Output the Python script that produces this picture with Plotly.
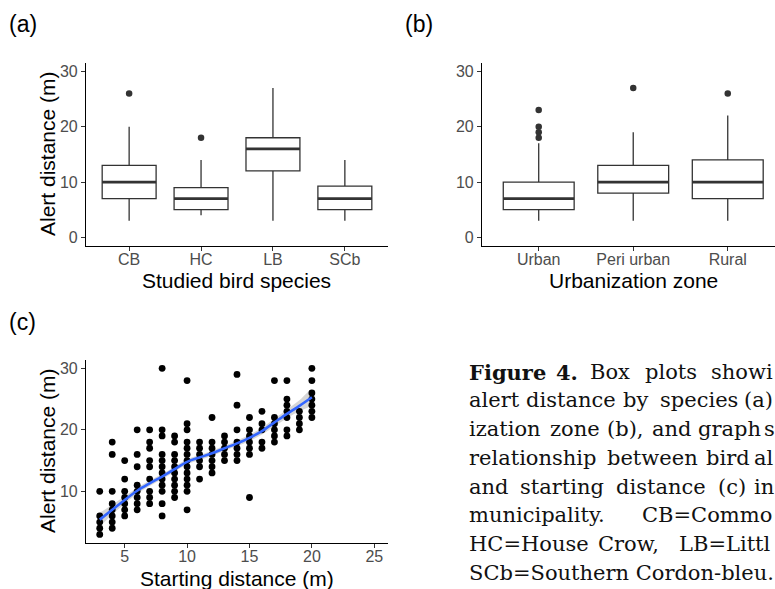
import plotly.graph_objects as go

W, H = 775, 589

# ---------------- data ----------------
species = ["CB", "HC", "LB", "SCb"]
species_q1 = [7, 5, 12, 5]
species_median = [10, 7, 16, 7]
species_q3 = [13, 9, 18, 9.25]
species_lower = [3, 4, 3, 3]
species_upper = [20, 14, 27, 14]
species_outlier_cat = ["CB", "HC"]
species_outlier_val = [26, 18]

zones = ["Urban", "Peri urban", "Rural"]
zone_q1 = [5, 8, 7]
zone_median = [7, 10, 10]
zone_q3 = [10, 13, 14]
zone_lower = [3, 3, 3]
zone_upper = [17, 19, 22]
zone_outlier_cat = ["Urban", "Urban", "Urban", "Urban", "Peri urban", "Rural"]
zone_outlier_val = [18, 19, 20, 23, 27, 26]

start_values = list(range(3, 21))
alert_by_start = [
    [3, 4, 5, 6, 10],
    [4, 5, 6, 7, 8, 10, 16, 18],
    [6, 7, 8, 9, 10, 12, 15],
    [7, 8, 9, 10, 11, 14, 16, 20],
    [8, 9, 10, 12, 14, 15, 17, 18, 20],
    [6, 8, 10, 11, 12, 13, 14, 15, 16, 19, 20, 30],
    [9, 10, 11, 12, 13, 14, 15, 16, 18, 19],
    [7, 10, 11, 12, 13, 14, 15, 16, 17, 18, 20, 21, 28],
    [12, 14, 15, 16, 17, 18],
    [13, 14, 15, 16, 17, 18, 22],
    [15, 16, 17, 18, 19],
    [15, 16, 17, 18, 20, 24, 29],
    [9, 16, 17, 18, 19, 20, 22],
    [17, 18, 20, 21, 23],
    [18, 19, 20, 21, 22, 28],
    [19, 20, 22, 23, 24, 25, 28],
    [20, 21, 22, 23],
    [22, 23, 24, 25, 26, 28, 30],
]
smooth_x = start_values
smooth_y = [5.4, 7.0, 8.6, 10.1, 11.3, 12.4, 13.6, 14.8, 15.5,
            16.2, 17.0, 17.8, 18.7, 19.8, 21.2, 22.6, 23.9, 25.3]
smooth_lo = [4.3, 6.2, 8.0, 9.6, 10.85, 12.0, 13.2, 14.4, 15.1,
             15.8, 16.6, 17.35, 18.2, 19.25, 20.6, 21.9, 23.0, 24.1]
smooth_hi = [6.5, 7.8, 9.2, 10.6, 11.75, 12.8, 14.0, 15.2, 15.9,
             16.6, 17.4, 18.25, 19.2, 20.35, 21.8, 23.3, 24.8, 26.5]

species_tick_labels = species
zone_tick_labels = zones

# ---------------- helpers ----------------
def px(x):
    return x / W

def py(y):
    return 1 - y / H

SANS = "Liberation Sans, Arial, sans-serif"
SERIF = "DejaVu Serif, serif"
BOX_COL = "#333333"

fig = go.Figure()

def add_box_panel(cats, q1, med, q3, lo, hi, out_cat, out_val, xa, ya):
    pos = list(range(1, len(cats) + 1))
    fig.add_trace(go.Box(
        x=pos, q1=q1, median=med, q3=q3, lowerfence=lo, upperfence=hi,
        width=0.75, whiskerwidth=0, fillcolor="white", boxpoints=False,
        line=dict(color=BOX_COL, width=1.3), xaxis=xa, yaxis=ya,
        showlegend=False, hoverinfo="skip"))
    mx, my = [], []
    for p, m in zip(pos, med):
        mx += [p - 0.375, p + 0.375, None]
        my += [m, m, None]
    fig.add_trace(go.Scatter(x=mx, y=my, mode="lines",
                             line=dict(color=BOX_COL, width=2.7),
                             xaxis=xa, yaxis=ya, showlegend=False,
                             hoverinfo="skip"))
    idx = {c: i + 1 for i, c in enumerate(cats)}
    fig.add_trace(go.Scatter(x=[idx[c] for c in out_cat], y=out_val,
                             mode="markers",
                             marker=dict(color=BOX_COL, size=6.5),
                             xaxis=xa, yaxis=ya, showlegend=False,
                             hoverinfo="skip"))

add_box_panel(species, species_q1, species_median, species_q3,
              species_lower, species_upper,
              species_outlier_cat, species_outlier_val, "x", "y")
add_box_panel(zones, zone_q1, zone_median, zone_q3, zone_lower, zone_upper,
              zone_outlier_cat, zone_outlier_val, "x2", "y2")

# scatter panel
sx, sy = [], []
for s, vals in zip(start_values, alert_by_start):
    for v in vals:
        sx.append(s)
        sy.append(v)

fig.add_trace(go.Scatter(x=smooth_x + smooth_x[::-1],
                         y=smooth_hi + smooth_lo[::-1],
                         fill="toself", fillcolor="rgba(153,153,153,0.4)",
                         line=dict(width=0, shape="spline"), mode="lines",
                         xaxis="x3", yaxis="y3", showlegend=False,
                         hoverinfo="skip"))
fig.add_trace(go.Scatter(x=sx, y=sy, mode="markers",
                         marker=dict(color="black", size=6.8),
                         xaxis="x3", yaxis="y3", showlegend=False))
fig.add_trace(go.Scatter(x=smooth_x, y=smooth_y, mode="lines",
                         line=dict(color="#3366FF", width=2.6, shape="spline"),
                         xaxis="x3", yaxis="y3", showlegend=False))

axis_common = dict(showline=True, linecolor="black", linewidth=1.2,
                   ticks="outside", ticklen=4, tickcolor=BOX_COL, tickwidth=1.1,
                   showgrid=False, zeroline=False,
                   tickfont=dict(family=SANS, size=16, color="#4D4D4D"))

fig.update_layout(
    width=W, height=H, margin=dict(l=0, r=0, t=0, b=0),
    paper_bgcolor="white", plot_bgcolor="white",
    xaxis=dict(domain=[px(86), px(388)], anchor="y", range=[0.4, 4.6],
               tickvals=[1, 2, 3, 4], ticktext=species_tick_labels,
               ticklabelstandoff=-5, **axis_common),
    yaxis=dict(domain=[py(245.7), py(63)], anchor="x", range=[-1.5, 31.5],
               tickvals=[0, 10, 20, 30], **axis_common),
    xaxis2=dict(domain=[px(482), 1.0], anchor="y2", range=[0.4, 3.5],
                tickvals=[1, 2, 3], ticktext=zone_tick_labels,
                ticklabelstandoff=-5, **axis_common),
    yaxis2=dict(domain=[py(245.7), py(63)], anchor="x2", range=[-1.5, 31.5],
                tickvals=[0, 10, 20, 30], **axis_common),
    xaxis3=dict(domain=[px(86), px(388)], anchor="y3", range=[1.9, 26.1],
                tickvals=[5, 10, 15, 20, 25], ticklabelstandoff=-5, **axis_common),
    yaxis3=dict(domain=[py(542.7), py(360)], anchor="x3", range=[1.65, 31.35],
                tickvals=[10, 20, 30], **axis_common),
)

ann = []
def text(x, y, s, size, family=SANS, color="black", angle=0, xanchor="center"):
    ann.append(dict(x=px(x), y=py(y), xref="paper", yref="paper", text=s,
                    showarrow=False, textangle=angle, xanchor=xanchor,
                    yanchor="middle", font=dict(family=family, size=size, color=color)))

# panel labels
text(7, 24, "(a)", 23, xanchor="left")
text(403, 24, "(b)", 23, xanchor="left")
text(7, 322, "(c)", 23, xanchor="left")
# axis titles
text(47, 154, "Alert distance (m)", 21, angle=-90)
text(237, 281, "Studied bird species", 21)
text(633, 281, "Urbanization zone", 21)
text(47, 451, "Alert distance (m)", 21, angle=-90)
text(237, 578, "Starting distance (m)", 21)

# caption (justified lines, as cropped in the reference)
caption = [
    (372, [(467, "<b>Figure</b>"), (554, "<b>4.</b>"), (588, "Box"), (643, "plots"), (709, "showi")]),
    (400, [(467, "alert"), (524, "distance"), (621, "by"), (658, "species"), (742, "(a)")]),
    (429, [(467, "ization"), (548, "zone"), (605, "(b),"), (650, "and"), (696, "graph"), (762, "s")]),
    (458, [(467, "relationship"), (605, "between"), (704, "bird"), (752, "al")]),
    (487, [(467, "and"), (518, "starting"), (614, "distance"), (716, "(c)"), (752, "in")]),
    (515, [(467, "municipality."), (640, "CB=Commo")]),
    (544, [(467, "HC=House"), (596, "Crow,"), (677, "LB=Littl")]),
    (573, [(467, "SCb=Southern Cordon-bleu.")]),
]
for yline, words in caption:
    for xw, w in words:
        text(xw, yline, w, 21, family=SERIF, color="#111111", xanchor="left")

fig.update_layout(annotations=ann)
fig.write_html("out.html")
